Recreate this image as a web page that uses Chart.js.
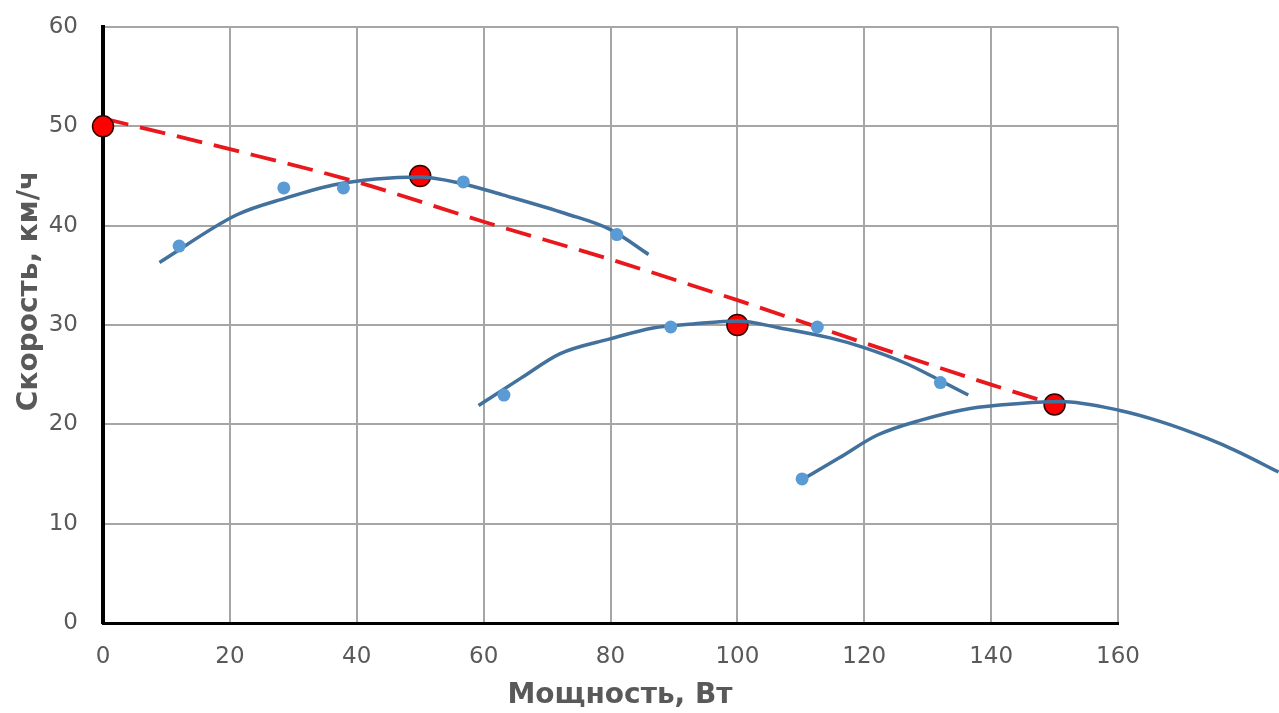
<!DOCTYPE html>
<html lang="ru">
<head>
<meta charset="utf-8">
<title>Скорость от мощности</title>
<script src="https://cdn.jsdelivr.net/npm/chart.js@4.4.1/dist/chart.umd.min.js"></script>
<style>
  html, body { margin: 0; padding: 0; background: #fff; }
  #wrap { width: 1279px; height: 713px; position: relative; }
</style>
</head>
<body>
<div id="wrap"><canvas id="chart"></canvas></div>
<script>
// Values: power (W) on x, speed (km/h) on y.

// measured points (small blue dots)
const dotsX = [12.0, 28.5, 37.9, 56.8, 81.0, 63.2, 89.5, 112.6, 132.0, 110.2, 178.6];
const dotsY = [37.95, 43.8, 43.8, 44.4, 39.1, 22.95, 29.8, 29.8, 24.2, 14.5, 17.5];

// fitted curves (dark blue lines)
const curve1X = [8.9, 21.1, 28.9, 36.3, 43.0, 50.0, 56.8, 63.0, 73.0, 80.0, 86.0];
const curve1Y = [36.3, 41.1, 42.8, 44.1, 44.7, 44.9, 44.2, 43.1, 41.2, 39.6, 37.1];

const curve2X = [59.2, 66.0, 72.0, 79.9, 86.7, 93.0, 100.0, 106.7, 114.6, 120.1, 126.7, 132.0, 136.4];
const curve2Y = [21.9, 24.7, 27.1, 28.6, 29.7, 30.1, 30.4, 29.7, 28.7, 27.7, 26.1, 24.4, 22.95];

const curve3X = [110.1, 116.0, 122.0, 128.8, 136.7, 144.5, 150.9, 160.3, 166.6, 174.0, 178.7, 185.3];
const curve3Y = [14.4, 16.6, 18.9, 20.4, 21.6, 22.1, 22.3, 21.4, 20.3, 18.6, 17.3, 15.2];

// maxima (big red dots) and the dashed line through them
const peaksX = [0, 50, 100, 150];
const peaksY = [50, 45, 30, 22];

const dashX = [0, 20, 40, 60, 80, 100, 120, 140, 150];
const dashY = [50.8, 47.7, 44.4, 40.4, 36.6, 32.5, 28.2, 24.0, 22.0];

// axis ticks and titles
const xTicks = [0, 20, 40, 60, 80, 100, 120, 140, 160];
const yTicks = [0, 10, 20, 30, 40, 50, 60];
const xTitle = 'Мощность, Вт';
const yTitle = 'Скорость, км/ч';

const toXY = (xs, ys) => xs.map((x, i) => ({ x: x, y: ys[i] }));

const curveStyle = {
    showLine: true,
    pointRadius: 0,
    borderColor: '#41719c',
    borderWidth: 3.5,
    cubicInterpolationMode: 'monotone',
    fill: false,
    clip: false,
    order: 1
};

// axis titles sit a little off the plot centre in the original, so draw them by hand
const axisTitles = {
    id: 'axisTitles',
    afterDraw(chart) {
        const ctx = chart.ctx;
        ctx.save();
        ctx.fillStyle = '#595959';
        ctx.font = 'bold 28px "DejaVu Sans", sans-serif';
        ctx.textAlign = 'center';
        ctx.textBaseline = 'middle';
        ctx.fillText(xTitle, 620, 696);
        ctx.translate(30, 291);
        ctx.rotate(-Math.PI / 2);
        ctx.fillText(yTitle, 0, 0);
        ctx.restore();
    }
};

Chart.defaults.font.family = "'DejaVu Sans', sans-serif";
Chart.defaults.color = '#595959';

new Chart(document.getElementById('chart'), {
    type: 'scatter',
    data: {
        datasets: [
            {
                label: 'точки',
                data: toXY(dotsX, dotsY),
                pointRadius: 6.5,
                pointBackgroundColor: '#5b9bd5',
                pointBorderWidth: 0,
                clip: false,
                order: 0
            },
            Object.assign({ label: 'кривая 1', data: toXY(curve1X, curve1Y) }, curveStyle),
            Object.assign({ label: 'кривая 2', data: toXY(curve2X, curve2Y) }, curveStyle),
            Object.assign({ label: 'кривая 3', data: toXY(curve3X, curve3Y) }, curveStyle),
            {
                label: 'максимумы',
                data: toXY(peaksX, peaksY),
                pointRadius: 10.5,
                pointBackgroundColor: '#ff0000',
                pointBorderColor: '#300000',
                pointBorderWidth: 1.5,
                clip: false,
                order: 2
            },
            {
                label: 'огибающая',
                data: toXY(dashX, dashY),
                showLine: true,
                pointRadius: 0,
                borderColor: '#e8181c',
                borderWidth: 3.8,
                borderDash: [26, 12],
                cubicInterpolationMode: 'monotone',
                clip: false,
                order: 3
            }
        ]
    },
    plugins: [axisTitles],
    options: {
        responsive: true,
        maintainAspectRatio: false,
        animation: false,
        layout: { padding: { top: 27, right: 161, bottom: 0, left: 0 } },
        plugins: {
            legend: { display: false },
            tooltip: { enabled: false }
        },
        scales: {
            x: {
                type: 'linear',
                position: 'bottom',
                // limits set here (not min/max) so the third curve can run past 160
                afterDataLimits: (s) => { s.min = xTicks[0]; s.max = xTicks[xTicks.length - 1]; },
                afterBuildTicks: (s) => { s.ticks = xTicks.map(v => ({ value: v })); },
                afterFit: (s) => { s.height = 90; },
                grid: { color: '#a6a6a6', lineWidth: 2, drawTicks: false },
                border: { color: '#000', width: 3 },
                ticks: { padding: 20, font: { size: 23 }, color: '#595959' }
            },
            y: {
                type: 'linear',
                min: yTicks[0],
                max: yTicks[yTicks.length - 1],
                afterBuildTicks: (s) => { s.ticks = yTicks.map(v => ({ value: v })); },
                afterFit: (s) => {
                    s.width = 103;
                    // tick padding would otherwise push the plot top down
                    s.paddingTop = 0;
                    s.paddingBottom = 0;
                },
                grid: { color: '#a6a6a6', lineWidth: 2, drawTicks: false },
                border: { color: '#000', width: 4 },
                ticks: { padding: 25, font: { size: 23 }, color: '#595959' }
            }
        }
    }
});
</script>
</body>
</html>
